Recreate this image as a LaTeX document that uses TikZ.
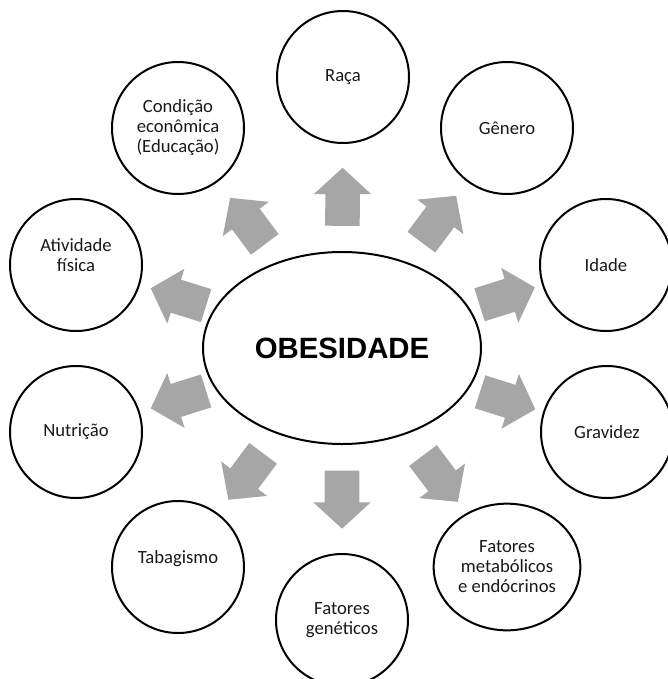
\documentclass[tikz,border=0pt]{standalone}
\usepackage{fontspec}
\setmainfont{Carlito}
\newfontfamily\headfont{Liberation Sans}
\usetikzlibrary{shapes.geometric,shapes.arrows}
\definecolor{arrowgray}{RGB}{166,166,166}
\tikzset{
  factor/.style={draw, line width=1.5pt, circle, minimum size=99pt, inner sep=0pt, align=center, text=black!90, font=\fontsize{14}{15}\selectfont},
  fatarrow/.style={single arrow, fill=arrowgray, draw=none, minimum height=43.5pt, inner xsep=0pt, inner ysep=12.75pt, single arrow head extend=8.6pt, single arrow tip angle=95, sloped, allow upside down, anchor=tail}
}
\begin{document}
\begin{tikzpicture}[x=0.75pt, y=-0.75pt, line join=round]
    \useasboundingbox (0,0) rectangle (668,679);
    \clip (0,0) rectangle (668,679);
    \node[draw, line width=1.5pt, ellipse, minimum width=208.5pt, minimum height=144pt, font=\headfont\bfseries\fontsize{22}{26}\selectfont] (obes) at (342,348) {OBESIDADE};
    \node[factor] (raca) at (343,77) {Raça};
    \node[factor] (genero) at (507,128) {Gênero};
    \node[factor] (idade) at (606,265) {Idade};
    \node[factor] (gravidez) at (607,432) {Gravidez};
    \node[factor, ellipse, minimum width=110pt, minimum height=95pt] (metab) at (507,567) {Fatores\\metabólicos\\e endócrinos};
    \node[factor] (genet) at (342,620) {Fatores\\genéticos};
    \node[factor] (tabag) at (178,567) {Tabagismo\\};
    \node[factor] (nutri) at (76,432) {Nutrição};
    \node[factor] (ativ) at (76,265) {Atividade\\física\\};
    \node[factor] (cond) at (178,128) {Condição\\econômica\\(Educação)};
    \foreach \n/\p in {raca/0.45, genero/0.48, idade/0.52, gravidez/0.52, metab/0.49, genet/0.45, tabag/0.48, nutri/0.51, ativ/0.51, cond/0.47}
        \path (obes.center) -- (\n.center) node[fatarrow, pos=\p] {};
\end{tikzpicture}
\end{document}
